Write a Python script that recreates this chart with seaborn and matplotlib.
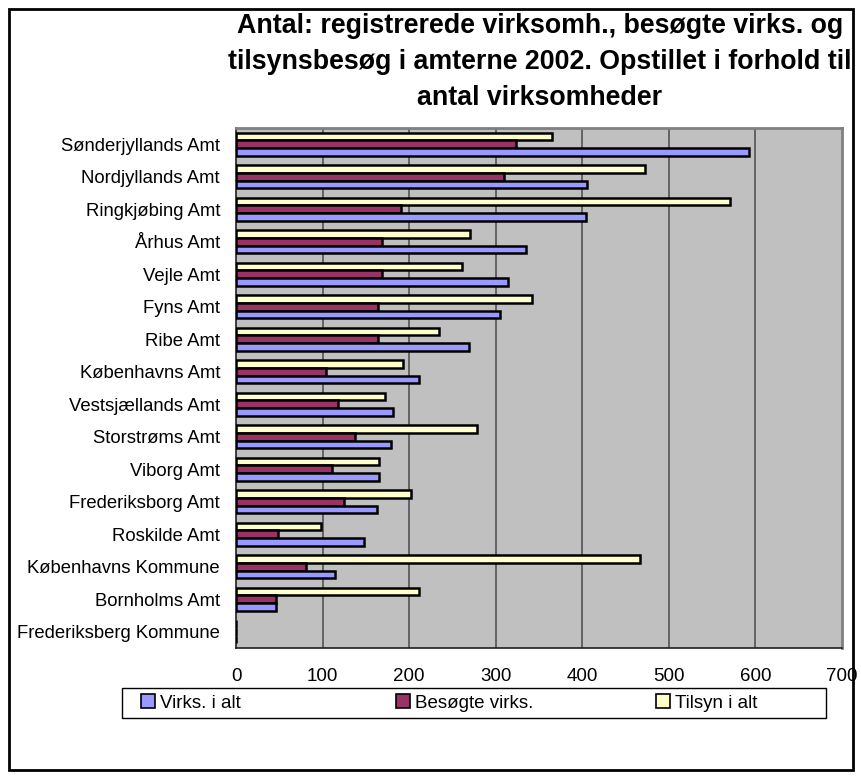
import numpy as np
import pandas as pd
import matplotlib
matplotlib.use("Agg")
import matplotlib.pyplot as plt
from matplotlib.patches import Patch, Rectangle
from matplotlib.ticker import FixedLocator
import seaborn as sns

# Counties / municipalities, top to bottom
amter = [
    "Sønderjyllands Amt", "Nordjyllands Amt", "Ringkjøbing Amt", "Århus Amt",
    "Vejle Amt", "Fyns Amt", "Ribe Amt", "Københavns Amt", "Vestsjællands Amt",
    "Storstrøms Amt", "Viborg Amt", "Frederiksborg Amt", "Roskilde Amt",
    "Københavns Kommune", "Bornholms Amt", "Frederiksberg Kommune",
]

# Registered companies
virks_i_alt = [592, 406, 404, 335, 314, 305, 269, 211, 181, 179, 165, 163, 148, 114, 46, 0]
# Companies visited
besogte_virks = [324, 310, 191, 169, 169, 164, 164, 104, 118, 137, 111, 125, 49, 81, 46, 0]
# Inspections in total
tilsyn_i_alt = [365, 472, 571, 270, 261, 342, 234, 193, 172, 278, 165, 202, 98, 467, 211, 0]

series_names = ["Virks. i alt", "Besøgte virks.", "Tilsyn i alt"]
series_colors = ["#9999FF", "#993366", "#FFFFCC"]
x_ticks = [0, 100, 200, 300, 400, 500, 600, 700]

title = ("Antal: registrerede virksomh., besøgte virks. og\n"
         "tilsynsbesøg i amterne 2002. Opstillet i forhold til\n"
         "antal virksomheder")

df = pd.DataFrame({
    "Amt": amter * 3,
    "Antal": virks_i_alt + besogte_virks + tilsyn_i_alt,
    "Serie": [series_names[0]] * len(amter) + [series_names[1]] * len(amter)
             + [series_names[2]] * len(amter),
})

sns.set_style("white")
plt.rcParams["font.family"] = ["Liberation Sans", "DejaVu Sans"]
plt.rcParams["text.color"] = "black"
plt.rcParams["xtick.labelcolor"] = "black"
plt.rcParams["ytick.labelcolor"] = "black"

W, H = 861, 778
fig = plt.figure(figsize=(W / 100, H / 100), dpi=100)
fig.patch.set_facecolor("white")

# axes box in pixel coordinates
px_l, px_r, px_t, px_b = 236, 842, 128, 648
ax = fig.add_axes([px_l / W, 1 - px_b / H, (px_r - px_l) / W, (px_b - px_t) / H])
ax.set_facecolor("#C0C0C0")

palette = dict(zip(series_names, series_colors))
hue_order = ["Tilsyn i alt", "Besøgte virks.", "Virks. i alt"]
sns.barplot(data=df, y="Amt", x="Antal", hue="Serie", hue_order=hue_order,
            order=amter, palette=palette, orient="h", width=0.72, gap=0,
            edgecolor="black", linewidth=1.8, saturation=1, legend=False,
            ax=ax, zorder=3)

ax.set_xlim(0, 700)
ax.set_ylim(len(amter) - 0.5, -0.5)
ax.set_xlabel("")
ax.set_ylabel("")

# vertical gridlines
ax.set_xticks(x_ticks)
ax.set_xticklabels([str(v) for v in x_ticks], fontsize=13.5)
for v in x_ticks[1:-1]:
    ax.axvline(v, color="#4a4a4a", linewidth=1.1, zorder=1)

ax.tick_params(axis="x", which="major", direction="out", length=4.5, width=1,
               color="black", pad=10)
ax.tick_params(axis="y", which="major", length=0, pad=11.5, labelsize=13.3)
ax.yaxis.set_minor_locator(FixedLocator(np.arange(-0.5, len(amter), 1.0)))
ax.tick_params(axis="y", which="minor", direction="out", length=4.5, width=1,
               color="black")

for side in ["top", "right"]:
    ax.spines[side].set_color("#808080")
    ax.spines[side].set_linewidth(2)
for side in ["left", "bottom"]:
    ax.spines[side].set_color("#202020")
    ax.spines[side].set_linewidth(1.2)

fig.text(540 / W, 1 - 62 / H, title, ha="center", va="center",
         fontsize=19.3, fontweight="bold", linespacing=1.5, color="black")

# legend: one entry per slot, inside a shared box
legend_x = [141, 396, 656]
for name, color, lx in zip(series_names, series_colors, legend_x):
    h = Patch(facecolor=color, edgecolor="black", linewidth=1.2, label=name)
    fig.legend(handles=[h], loc="center left",
               bbox_to_anchor=(lx / W, 1 - 703 / H),
               borderaxespad=0, borderpad=0, frameon=False, fontsize=13.5,
               handlelength=0.72, handleheight=0.72, handletextpad=0.3)
fig.patches.append(Rectangle((122 / W, 1 - 718 / H), 704 / W, 30 / H,
                             transform=fig.transFigure, fill=False,
                             edgecolor="black", linewidth=1.0))

# outer chart border
fig.patches.append(Rectangle((9 / W, 1 - 770 / H), 844 / W, 761 / H,
                             transform=fig.transFigure, fill=False,
                             edgecolor="black", linewidth=2))

fig.savefig("out.png", dpi=100)
